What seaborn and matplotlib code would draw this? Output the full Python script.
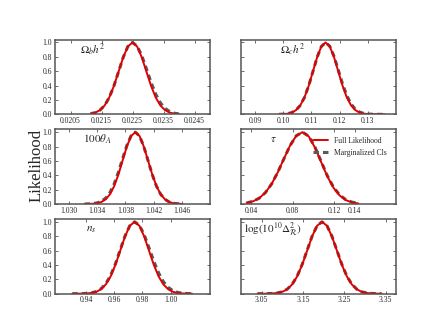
import matplotlib
matplotlib.use('Agg')
import matplotlib.pyplot as plt
import seaborn as sns
import pandas as pd

# Parameter labels for each panel (row by row)
labels = [r'$\Omega_b h^2$', r'$\Omega_c h^2$', r'$100\theta_A$',
          r'$\tau$', r'$n_s$', r'$\log(10^{10}\Delta^2_{\mathcal{R}})$']

# Omega_b h^2
x_ob = [0.02115, 0.02130, 0.02145, 0.02160, 0.02175, 0.02190, 0.02205, 0.02220, 0.02235, 0.02250,
        0.02265, 0.02280, 0.02295, 0.02310, 0.02325, 0.02340, 0.02355, 0.02370, 0.02385, 0.02400]
full_ob = [0.009, 0.024, 0.058, 0.123, 0.234, 0.395, 0.593, 0.793, 0.944, 1.0,
           0.944, 0.793, 0.593, 0.395, 0.234, 0.123, 0.058, 0.024, 0.009, 0.003]
marg_ob = [0.009, 0.024, 0.058, 0.123, 0.234, 0.395, 0.593, 0.793, 0.944, 1.0,
           0.950, 0.816, 0.633, 0.443, 0.280, 0.160, 0.083, 0.038, 0.016, 0.006]

# Omega_c h^2
x_oc = [0.0985, 0.1000, 0.1015, 0.1030, 0.1045, 0.1060, 0.1075, 0.1090, 0.1105, 0.1120, 0.1135, 0.1150,
        0.1165, 0.1180, 0.1195, 0.1210, 0.1225, 0.1240, 0.1255, 0.1270, 0.1285, 0.1300, 0.1315, 0.1330,
        0.1345, 0.1360]
full_oc = [0.0005, 0.003, 0.009, 0.024, 0.058, 0.123, 0.234, 0.395, 0.593, 0.793, 0.944, 1.0,
           0.946, 0.797, 0.600, 0.402, 0.240, 0.128, 0.061, 0.026, 0.010, 0.004, 0.0015, 0.0006,
           0.0002, 0.0001]
marg_oc = [0.0005, 0.003, 0.009, 0.024, 0.058, 0.123, 0.234, 0.395, 0.593, 0.793, 0.944, 1.0,
           0.948, 0.809, 0.620, 0.427, 0.265, 0.147, 0.074, 0.033, 0.0135, 0.0049, 0.0016, 0.0005,
           0.0001, 0.0]

# 100 theta_A
x_th = [1.0322, 1.0328, 1.0334, 1.0340, 1.0346, 1.0352, 1.0358, 1.0364, 1.0370, 1.0376, 1.0382, 1.0388,
        1.0394, 1.0400, 1.0406, 1.0412, 1.0418, 1.0424, 1.0430, 1.0436, 1.0442, 1.0448, 1.0454, 1.0460]
full_th = [0.0003, 0.0012, 0.004, 0.011, 0.029, 0.066, 0.135, 0.249, 0.411, 0.607, 0.801, 0.946,
           1.0, 0.946, 0.801, 0.607, 0.411, 0.249, 0.135, 0.066, 0.029, 0.011, 0.004, 0.0012]
marg_th = [0.0007, 0.002, 0.006, 0.016, 0.038, 0.083, 0.160, 0.280, 0.443, 0.633, 0.816, 0.950,
           1.0, 0.946, 0.801, 0.607, 0.411, 0.249, 0.135, 0.066, 0.029, 0.011, 0.004, 0.0012]

# tau
x_tau = [0.0355, 0.0415, 0.0475, 0.0535, 0.0595, 0.0655, 0.0715, 0.0775, 0.0835, 0.0895,
         0.0955, 0.1015, 0.1075, 0.1135, 0.1195, 0.1255, 0.1315, 0.1375, 0.1435]
full_tau = [0.0155, 0.037, 0.080, 0.157, 0.276, 0.439, 0.629, 0.814, 0.950, 1.0,
            0.942, 0.788, 0.586, 0.386, 0.226, 0.118, 0.054, 0.022, 0.008]
marg_tau = [0.0155, 0.037, 0.080, 0.157, 0.276, 0.439, 0.629, 0.814, 0.950, 1.0,
            0.945, 0.795, 0.595, 0.395, 0.235, 0.125, 0.060, 0.026, 0.010]

# n_s
x_ns = [0.9303, 0.9337, 0.9371, 0.9405, 0.9439, 0.9473, 0.9507, 0.9541, 0.9575, 0.9609, 0.9643, 0.9677, 0.9711,
        0.9745, 0.9779, 0.9813, 0.9847, 0.9881, 0.9915, 0.9949, 0.9983, 1.0017, 1.0051, 1.0085, 1.0119, 1.0153]
full_ns = [0.0001, 0.0003, 0.001, 0.0034, 0.010, 0.026, 0.062, 0.130, 0.242, 0.403, 0.600, 0.797, 0.945,
           1.0, 0.945, 0.797, 0.600, 0.403, 0.242, 0.130, 0.062, 0.026, 0.010, 0.0034, 0.001, 0.0003]
marg_ns = [0.0001, 0.0004, 0.0014, 0.0043, 0.012, 0.031, 0.069, 0.141, 0.256, 0.418, 0.613, 0.804, 0.947,
           1.0, 0.952, 0.820, 0.640, 0.452, 0.290, 0.168, 0.088, 0.042, 0.018, 0.007, 0.0025, 0.0008]

# log(10^10 Delta_R^2)
x_as = [3.040, 3.052, 3.064, 3.076, 3.088, 3.100, 3.112, 3.124, 3.136, 3.148, 3.160, 3.172, 3.184,
        3.196, 3.208, 3.220, 3.232, 3.244, 3.256, 3.268, 3.280, 3.292, 3.304, 3.316, 3.328, 3.340]
full_as = [0.0001, 0.0003, 0.001, 0.0034, 0.010, 0.026, 0.062, 0.130, 0.242, 0.403, 0.600, 0.797, 0.945,
           1.0, 0.945, 0.797, 0.600, 0.403, 0.242, 0.130, 0.062, 0.026, 0.010, 0.0034, 0.001, 0.0003]
marg_as = [0.0001, 0.0003, 0.001, 0.0036, 0.011, 0.027, 0.064, 0.133, 0.246, 0.408, 0.604, 0.800, 0.946,
           1.0, 0.946, 0.800, 0.604, 0.408, 0.246, 0.133, 0.064, 0.027, 0.011, 0.0036, 0.001, 0.0003]

# Axis ranges and ticks per panel
xlims = [(0.0200, 0.0250), (0.085, 0.140), (1.028, 1.050), (0.030, 0.180), (0.918, 1.028), (3.000, 3.375)]
xticks = [[0.0205, 0.0215, 0.0225, 0.0235, 0.0245],
          [0.09, 0.10, 0.11, 0.12, 0.13],
          [1.030, 1.034, 1.038, 1.042, 1.046],
          [0.04, 0.08, 0.12, 0.14],
          [0.94, 0.96, 0.98, 1.00],
          [3.05, 3.15, 3.25, 3.35]]
xfmt = ['%.4f', '%.2f', '%.3f', '%.2f', '%.2f', '%.2f']
label_pos = [(0.16, 0.87), (0.25, 0.87), (0.18, 0.87), (0.19, 0.86), (0.20, 0.86), (0.02, 0.86)]

panels = [(x_ob, full_ob, marg_ob), (x_oc, full_oc, marg_oc), (x_th, full_th, marg_th),
          (x_tau, full_tau, marg_tau), (x_ns, full_ns, marg_ns), (x_as, full_as, marg_as)]

sns.set_style('ticks')
plt.rcParams['font.family'] = ['Liberation Serif', 'DejaVu Serif']
plt.rcParams['mathtext.fontset'] = 'stix'
plt.rcParams['xtick.direction'] = 'in'
plt.rcParams['ytick.direction'] = 'in'

fig, axes = plt.subplots(3, 2, figsize=(4.4, 3.3), dpi=100)

for i, (ax, (x, full, marg)) in enumerate(zip(axes.flat, panels)):
    df = pd.DataFrame({'x': x, 'full': full, 'marg': marg})
    # Marginalized curve goes underneath the full likelihood
    sns.lineplot(data=df, x='x', y='marg', ax=ax, color='#5a5a5a', lw=2.2,
                 linestyle=(0, (1.8, 1.3)), label='Marginalized Cls')
    sns.lineplot(data=df, x='x', y='full', ax=ax, color='#e00000', lw=1.4,
                 label='Full Likelihood')

    ax.set_xlim(*xlims[i])
    ax.set_ylim(0, 1.04)
    ax.set_xticks(xticks[i])
    ax.set_xticklabels([xfmt[i] % t for t in xticks[i]])
    ax.set_yticks([0.0, 0.2, 0.4, 0.6, 0.8, 1.0])
    ax.tick_params(labelsize=5.5, length=2.5, width=0.6, color='#555555', pad=2,
                   top=True, right=True)
    if i % 2 == 1:
        ax.tick_params(labelleft=False)
    ax.set_xlabel('')
    ax.set_ylabel('')
    for sp in ax.spines.values():
        sp.set_color('#555555')
        sp.set_linewidth(1.1)

    ax.text(label_pos[i][0], label_pos[i][1], labels[i], transform=ax.transAxes,
            fontsize=8, ha='left', va='center')

    if i == 3:
        h, l = ax.get_legend_handles_labels()
        ax.legend(h[::-1], l[::-1], loc='upper left', bbox_to_anchor=(0.42, 0.99),
                  frameon=False, fontsize=5.5, handlelength=2.0, handletextpad=0.7,
                  labelspacing=0.5)
    else:
        ax.get_legend().remove()

fig.text(0.082, 0.5, 'Likelihood', rotation=90, fontsize=12, ha='center', va='center')

fig.savefig('out.png', dpi=100)
